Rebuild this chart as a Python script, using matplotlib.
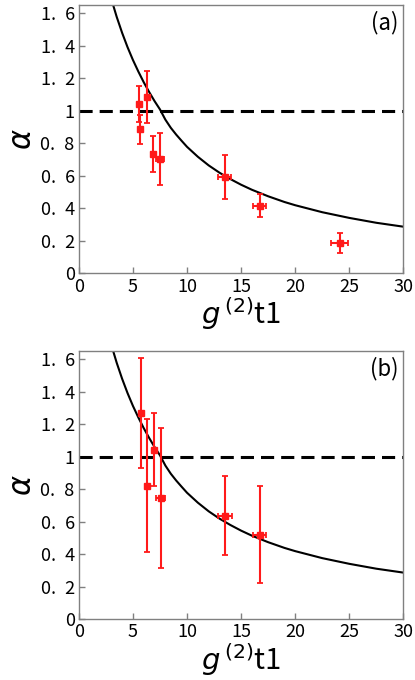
import numpy as np
import matplotlib
matplotlib.use("Agg")
import matplotlib.pyplot as plt

plt.rcParams['font.family'] = ['Noto Sans CJK JP', 'DejaVu Sans']

# panel (a)
a_x = [5.6, 5.69, 6.27, 6.89, 7.5, 13.47, 16.7, 24.1]
a_y = [1.04, 0.886, 1.087, 0.734, 0.705, 0.594, 0.416, 0.188]
a_yerr = [0.11, 0.09, 0.16, 0.11, 0.16, 0.135, 0.07, 0.063]
a_xerr = [0.0, 0.0, 0.0, 0.2, 0.38, 0.6, 0.6, 0.8]

# panel (b)
b_x = [5.75, 6.3, 6.98, 7.56, 13.5, 16.73]
b_y = [1.268, 0.822, 1.042, 0.748, 0.638, 0.521]
b_yerr = [0.34, 0.41, 0.225, 0.43, 0.24, 0.30]
b_xerr = [0.0, 0.1, 0.1, 0.4, 0.65, 0.6]

# model curve (same in both panels)
curve_x = [3.17, 3.5, 4.0, 4.5, 5.0, 5.5, 6.0, 6.5, 7.0, 7.5, 8.0, 8.5, 9.0,
           9.5, 10, 11, 12, 13, 14, 15, 16, 17.5, 19, 20, 22.5, 25, 27.5, 30]
curve_y = [1.65, 1.577, 1.479, 1.391, 1.312, 1.241, 1.175, 1.115, 1.059, 1.008,
           0.945, 0.895, 0.853, 0.815, 0.778, 0.717, 0.664, 0.619, 0.580, 0.545,
           0.514, 0.474, 0.439, 0.419, 0.376, 0.341, 0.311, 0.287]

x_ticks = [0, 5, 10, 15, 20, 25, 30]
y_ticks = [0, 0.2, 0.4, 0.6, 0.8, 1.0, 1.2, 1.4, 1.6]
y_ticklabels = ["0", "0.\u20022", "0.\u20024", "0.\u20026", "0.\u20028", "1",
                "1.\u20022", "1.\u20024", "1.\u20026"]

fig = plt.figure(figsize=(4.15, 6.8), dpi=100)
ax_a = fig.add_axes([0.19, 0.598, 0.782, 0.3946])
ax_b = fig.add_axes([0.19, 0.0893, 0.782, 0.3946])


def draw_panel(ax, xs, ys, xerr, yerr, tag):
    ax.plot(curve_x, curve_y, color="black", lw=1.5, zorder=2)
    ax.plot([0, 30], [1, 1], color="black", lw=2.2, ls=(0, (4.3, 2.3)), zorder=2)
    ax.errorbar(xs, ys, xerr=xerr, yerr=yerr, fmt="s", color="#ff1a1a",
                ms=4, elinewidth=1.5, capsize=2.5, capthick=1.3, zorder=3)
    ax.set_xlim(0, 30)
    ax.set_ylim(0, 1.65)
    ax.set_xticks(x_ticks)
    ax.set_yticks(y_ticks)
    ax.set_yticklabels(y_ticklabels)
    ax.tick_params(direction="in", length=4, width=1, color="#808080",
                   labelsize=13, pad=3)
    for s in ax.spines.values():
        s.set_color("#808080")
        s.set_linewidth(1)
    ax.set_xlabel(r"$g^{\,(2)}$t1", fontsize=21, labelpad=0)
    ax.set_ylabel(r"$\alpha$", fontsize=22)
    ax.yaxis.set_label_coords(-0.125, 0.5)
    ax.text(0.985, 0.98, tag, transform=ax.transAxes, ha="right", va="top",
            fontsize=16)


draw_panel(ax_a, a_x, a_y, a_xerr, a_yerr, "(a)")
draw_panel(ax_b, b_x, b_y, b_xerr, b_yerr, "(b)")

fig.savefig("out.png", dpi=100)
